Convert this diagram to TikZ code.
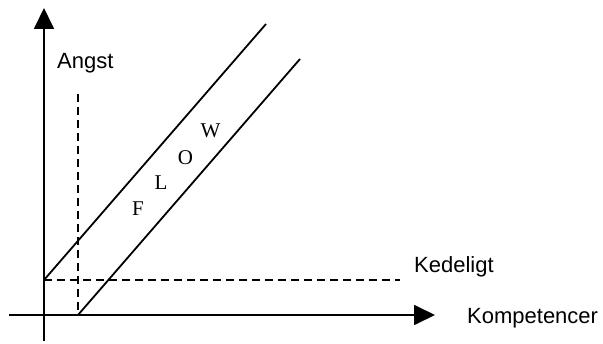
\documentclass[tikz,border=0pt]{standalone}
\usepackage{fontspec}
\setmainfont{Liberation Sans}
\newfontfamily\flowfont{Liberation Serif}
\usetikzlibrary{arrows.meta}
\begin{document}
\begin{tikzpicture}[x=1pt,y=-1pt,
  axis/.style={line width=1.8pt,-{Triangle[length=21pt,width=20pt]}},
  guide/.style={line width=1.5pt,dash pattern=on 8pt off 5pt},
  band/.style={line width=1.8pt},
  label/.style={inner sep=0pt,anchor=base west,font=\fontsize{22}{26}\selectfont},
  flowletter/.style={inner sep=0pt,anchor=base,font=\flowfont\fontsize{21}{24}\selectfont}]
\useasboundingbox (0,0) rectangle (603,344);
% axes
\coordinate (ybot) at (44,341);
\coordinate (ytop) at (44,8);
\coordinate (xleft) at (9,315);
\coordinate (xright) at (435,315);
\draw[axis] (ybot) -- (ytop);
\draw[axis] (xleft) -- (xright);
% dashed guides
\coordinate (vtop) at (78,94);
\coordinate (vbot) at (78,315);
\coordinate (hleft) at (44,280);
\coordinate (hright) at (400,280);
\draw[guide] (vtop) -- (vbot);
\draw[guide] (hleft) -- (hright);
% flow channel
\coordinate (uend) at (266,24);
\coordinate (lend) at (300,59);
\draw[band] (hleft) -- (uend);
\draw[band] (vbot) -- (lend);
% labels
\node[label] (angst) at (57,69) {Angst};
\node[label] (kedeligt) at (414,273) {Kedeligt};
\node[label] (komp) at (467,324) {Kompetencer};
\node[flowletter] (f) at (138,216) {F};
\node[flowletter] (l) at (161,190) {L};
\node[flowletter] (o) at (185.5,164.5) {O};
\node[flowletter] (w) at (210.5,138) {W};
\end{tikzpicture}
\end{document}
